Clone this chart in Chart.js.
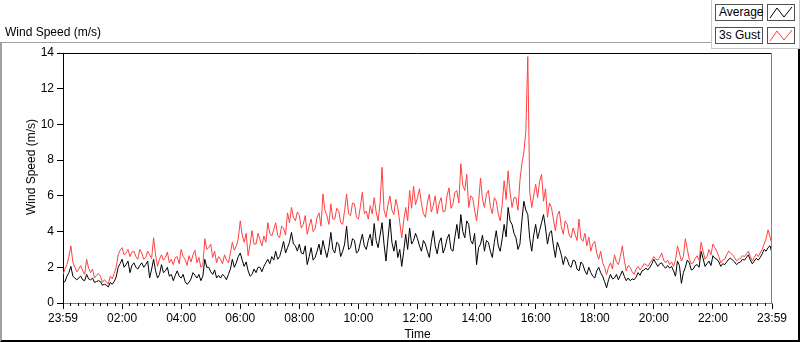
<!DOCTYPE html>
<html>
<head>
<meta charset="utf-8">
<title>Wind Speed (m/s)</title>
<script src="https://cdn.jsdelivr.net/npm/chart.js@4.4.1/dist/chart.umd.min.js"></script>
<style>
  html, body { margin: 0; padding: 0; background: #fff; }
  body { width: 800px; height: 342px; position: relative; overflow: hidden;
         font-family: "Liberation Sans", Arial, sans-serif; font-size: 12px; color: #000; }
  #frame { position: absolute; left: 0; top: 42px; width: 796px; height: 297px;
           border-top: 1px solid #a0a0a0; border-left: 2px solid #a0a0a0;
           border-right: 2px solid #000; border-bottom: 2px solid #000; }
  #title { position: absolute; left: 5px; top: 25px; line-height: 14px; white-space: nowrap; }
  #ytitle { position: absolute; left: 31px; top: 167px; white-space: nowrap; line-height: 14px;
            transform: translate(-50%, -50%) rotate(-90deg); }
  #legend { position: absolute; left: 711px; top: -1px; width: 87px; height: 48px;
            border: 1px solid #c8c8c8; background: #fff; }
  .lbl { position: absolute; left: 715px; width: 48px; height: 17px; box-sizing: border-box;
         border: 1px solid #505050; padding-left: 3px; line-height: 15px; background: #fff; }
  .ico { position: absolute; left: 767px; width: 28px; height: 17px; box-sizing: border-box;
         border: 1px solid #505050; background: #fff; }
  .ico svg { display: block; }
  canvas { position: absolute; left: 0; top: 0; }
</style>
</head>
<body>
<div id="frame"></div>
<canvas id="chart" width="800" height="342"></canvas>
<div id="title">Wind Speed (m/s)</div>
<div id="ytitle">Wind Speed (m/s)</div>
<div id="legend"></div>
<div class="lbl" style="top:4px">Average</div>
<div class="ico" style="top:4px"><svg width="26" height="15"><polyline points="2,13 9,3 16,12 24,2" fill="none" stroke="#000" stroke-width="1"/></svg></div>
<div class="lbl" style="top:27px">3s Gust</div>
<div class="ico" style="top:27px"><svg width="26" height="15"><polyline points="2,13 9,3 16,12 24,2" fill="none" stroke="#ff4040" stroke-width="1"/></svg></div>
<script>
// one sample every 4 minutes, from 23:59 to 23:59
var stepMinutes = 4;

var avgSpeed = [
  1.15, 1.2, 1.5, 1.7, 2.05, 1.5, 1.4, 1.3, 1.4, 1.5, 1.3, 1.25, 1.6, 1.35, 1.3, 1.4, 1.15, 1.2, 1.25, 1.2,
  1.0, 1.05, 1.0, 0.9, 1.15, 1.05, 1.2, 1.45, 2.0, 2.2, 2.45, 2.0, 2.15, 2.35, 1.7, 2.1, 2.25, 2.0, 1.9, 2.1,
  2.25, 2.0, 2.15, 2.35, 1.4, 1.9, 2.45, 1.8, 1.4, 1.6, 2.15, 1.7, 1.8, 2.0, 1.5, 1.6, 1.25, 1.55, 1.8, 1.5,
  1.4, 1.6, 1.2, 1.05, 1.15, 1.35, 1.7, 1.55, 1.4, 1.6, 1.25, 1.5, 2.45, 2.0, 2.0, 1.75, 1.6, 1.85, 1.4, 1.55,
  1.4, 1.6, 1.5, 1.3, 1.6, 1.9, 2.45, 2.0, 2.25, 2.6, 2.8, 2.4, 2.05, 2.3, 1.8, 1.5, 1.6, 1.9, 1.7, 2.0,
  2.0, 1.75, 2.05, 2.25, 2.45, 2.2, 2.6, 2.4, 2.9, 2.45, 2.6, 3.0, 3.45, 2.8, 3.1, 3.4, 3.95, 3.3, 3.2, 2.9,
  3.3, 2.8, 2.75, 3.2, 2.15, 2.6, 3.1, 2.4, 2.55, 2.9, 3.3, 2.7, 3.5, 3.0, 2.55, 3.1, 3.95, 3.0, 2.8, 3.4,
  3.3, 2.6, 2.9, 3.3, 4.3, 3.0, 3.1, 3.6, 3.5, 2.8, 2.9, 3.4, 3.85, 3.2, 3.0, 3.5, 3.85, 3.2, 4.45, 3.5,
  3.1, 3.8, 4.5, 3.3, 2.35, 3.6, 4.7, 3.4, 2.9, 3.5, 2.55, 3.0, 2.05, 2.9, 3.85, 3.0, 4.2, 3.3, 3.5, 3.9,
  3.6, 3.2, 2.9, 3.5, 3.3, 2.9, 2.55, 3.4, 4.05, 3.2, 2.75, 3.4, 3.65, 2.8, 3.1, 3.6, 3.85, 3.0, 2.9, 3.7,
  4.4, 3.6, 4.95, 4.0, 3.65, 4.6, 4.4, 3.5, 3.3, 3.9, 2.15, 3.1, 3.3, 3.8, 2.9, 3.5, 3.4, 2.9, 2.55, 3.4,
  4.05, 3.2, 2.9, 3.6, 4.4, 3.7, 5.35, 4.6, 4.4, 3.9, 3.65, 3.0, 3.3, 4.6, 5.7, 5.2, 4.95, 3.6, 2.9, 3.8,
  4.4, 3.6, 4.05, 4.5, 4.95, 4.2, 3.3, 3.9, 4.05, 3.2, 2.55, 3.4, 3.1, 2.7, 2.15, 2.6, 2.45, 2.1, 2.0, 2.4,
  2.35, 1.9, 1.8, 2.3, 2.15, 1.8, 1.6, 2.0, 1.7, 1.5, 1.4, 1.8, 2.0, 1.7, 1.5, 1.2, 0.85, 1.3, 1.6, 1.35,
  1.4, 1.6, 1.3, 1.55, 1.8, 1.5, 1.25, 1.4, 1.25, 1.35, 1.3, 1.45, 1.7, 1.55, 1.8, 1.85, 1.95, 1.85, 2.0, 2.2,
  2.45, 2.25, 2.05, 2.2, 2.25, 2.05, 1.95, 2.1, 1.95, 2.05, 1.8, 1.5, 2.35, 2.1, 1.1, 1.7, 2.0, 2.4, 2.25, 1.85,
  1.9, 2.1, 2.15, 2.0, 2.9, 2.5, 2.05, 2.2, 2.35, 2.1, 2.65, 2.5, 2.45, 2.3, 2.05, 2.2, 2.15, 2.3, 2.45, 2.5,
  2.4, 2.3, 2.15, 2.25, 2.3, 2.45, 2.4, 2.55, 2.7, 2.4, 2.2, 2.35, 2.5, 2.4, 2.55, 2.75, 3.0, 2.9, 3.1, 3.2,
  2.8
];

var gustSpeed = [
  1.6, 1.9, 2.15, 2.6, 3.2, 2.3, 2.0, 1.75, 1.9, 2.1, 1.8, 1.6, 2.45, 1.95, 1.7, 1.9, 1.4, 1.55, 1.65, 1.5,
  1.15, 1.3, 1.2, 1.05, 1.5, 1.35, 1.65, 2.0, 2.7, 2.95, 3.1, 2.7, 2.8, 3.0, 2.6, 2.85, 2.9, 2.6, 2.45, 3.0,
  2.8, 2.45, 2.55, 2.9, 2.7, 2.5, 3.65, 2.7, 2.05, 2.45, 2.7, 2.4, 2.55, 2.85, 2.25, 2.45, 2.15, 2.55, 2.6, 2.2,
  3.0, 2.6, 2.45, 2.1, 2.65, 2.3, 2.7, 2.95, 2.25, 2.55, 2.0, 2.1, 3.6, 3.0, 3.1, 3.3, 2.55, 2.9, 2.25, 2.6,
  2.45, 2.2, 2.7, 2.4, 2.25, 2.8, 3.4, 2.95, 3.2, 3.6, 4.6, 3.8, 3.4, 3.9, 2.65, 3.3, 4.05, 3.3, 3.3, 3.9,
  3.55, 3.2, 3.75, 3.4, 4.5, 3.9, 3.75, 4.1, 4.5, 3.8, 3.65, 4.3, 4.2, 3.8, 5.05, 4.5, 5.35, 4.8, 4.6, 5.1,
  4.9, 4.2, 4.4, 4.9, 3.85, 4.3, 4.7, 4.0, 4.15, 4.8, 5.05, 4.3, 6.1, 5.2, 4.9, 4.4, 5.55, 4.7, 4.7, 5.3,
  5.15, 4.5, 4.4, 5.2, 6.1, 5.0, 4.9, 5.6, 5.55, 4.8, 4.7, 5.4, 6.2, 5.0, 5.15, 4.7, 5.45, 5.0, 5.9, 5.1,
  4.6, 5.6, 7.6, 5.2, 4.8, 5.5, 6.0, 5.2, 4.95, 5.8, 5.35, 4.5, 3.65, 4.6, 5.35, 4.6, 6.3, 5.3, 6.55, 5.5,
  5.9, 6.4, 5.55, 5.0, 4.8, 5.6, 6.1, 5.1, 5.45, 6.0, 5.0, 5.6, 5.9, 5.1, 5.15, 6.0, 6.45, 5.3, 5.55, 6.2,
  6.3, 5.6, 7.8, 6.6, 6.3, 7.2, 5.35, 6.0, 5.9, 5.2, 4.6, 5.6, 7.0, 5.8, 5.35, 6.1, 6.3, 5.4, 5.0, 5.9,
  5.7, 5.0, 4.6, 5.5, 6.85, 5.8, 7.4, 6.2, 5.35, 5.9, 5.9, 5.2, 6.85, 7.8, 8.45, 9.6, 13.8, 6.2, 5.35, 6.0,
  6.65, 5.9, 6.8, 7.2, 5.7, 6.4, 4.8, 5.6, 5.35, 4.7, 4.05, 4.9, 5.15, 4.3, 3.85, 4.6, 4.4, 3.8, 3.65, 4.2,
  3.85, 3.5, 4.7, 3.6, 3.45, 3.9, 3.2, 3.7, 2.9, 3.3, 3.45, 2.8, 2.45, 2.9, 2.25, 2.0, 1.6, 2.0, 2.25, 1.9,
  2.7, 2.3, 2.15, 2.6, 3.2, 2.4, 1.8, 2.1, 2.0, 1.75, 1.6, 1.9, 2.05, 1.85, 2.0, 2.2, 2.15, 2.05, 2.25, 2.4,
  2.6, 2.45, 2.4, 2.55, 2.8, 2.4, 2.25, 2.4, 2.15, 2.3, 2.05, 2.4, 3.2, 2.8, 2.35, 2.6, 3.6, 3.0, 2.45, 2.2,
  2.25, 2.5, 2.65, 2.4, 3.4, 2.9, 2.45, 2.6, 3.0, 2.7, 3.3, 3.1, 2.9, 2.6, 2.25, 2.4, 2.45, 2.7, 2.9, 2.8,
  2.7, 2.55, 2.35, 2.45, 2.5, 2.65, 2.6, 2.75, 2.9, 2.6, 2.35, 2.55, 2.75, 2.6, 2.8, 3.0, 3.3, 3.6, 4.1, 3.7,
  3.3
];

var timeLabels = ['23:59', '02:00', '04:00', '06:00', '08:00', '10:00', '12:00',
                  '14:00', '16:00', '18:00', '20:00', '22:00', '23:59'];
var yTicks = [0, 2, 4, 6, 8, 10, 12, 14];

function toPoints(values) {
    return values.map(function (v, i) { return { x: i * stepMinutes, y: v }; });
}

// plot frame (top/right) and the 15 minute minor ticks on the time axis
var framePlugin = {
    id: 'frame',
    afterDraw: function (chart) {
        var c = chart.ctx, a = chart.chartArea, xs = chart.scales.x;
        c.save();
        c.lineWidth = 1;
        c.strokeStyle = '#000';
        c.beginPath();
        c.moveTo(a.left, a.top + 0.5);
        c.lineTo(a.right, a.top + 0.5);
        c.stroke();
        c.strokeStyle = '#808080';
        c.beginPath();
        c.moveTo(a.right - 0.5, a.top);
        c.lineTo(a.right - 0.5, a.bottom);
        c.stroke();
        c.strokeStyle = '#000';
        c.beginPath();
        for (var m = 0; m <= 1440; m += 15) {
            if (m % 120 === 0) continue;
            var px = Math.round(xs.getPixelForValue(m)) + 0.5;
            c.moveTo(px, a.bottom);
            c.lineTo(px, a.bottom + 3);
        }
        c.stroke();
        c.restore();
    }
};

Chart.defaults.font.family = '"Liberation Sans", Arial, sans-serif';
Chart.defaults.font.size = 12;
Chart.defaults.color = '#000';

var chart = new Chart(document.getElementById('chart').getContext('2d'), {
    type: 'line',
    data: {
        datasets: [{
            label: '3s Gust',
            data: toPoints(gustSpeed),
            borderColor: '#ff4040',
            borderWidth: 1,
            pointRadius: 0,
            tension: 0,
            fill: false,
            order: 0
        }, {
            label: 'Average',
            data: toPoints(avgSpeed),
            borderColor: '#000000',
            borderWidth: 1,
            pointRadius: 0,
            tension: 0,
            fill: false,
            order: 1
        }]
    },
    options: {
        responsive: false,
        animation: false,
        devicePixelRatio: 1,
        layout: { padding: { left: 24, right: 28, top: 53, bottom: 0 } },
        plugins: {
            legend: { display: false },
            tooltip: { enabled: false }
        },
        scales: {
            x: {
                type: 'linear',
                min: 0,
                max: 1440,
                afterBuildTicks: function (scale) {
                    scale.ticks = timeLabels.map(function (t, i) { return { value: i * 120 }; });
                },
                afterFit: function (scale) { scale.height = 39; },
                ticks: {
                    autoSkip: false,
                    maxRotation: 0,
                    padding: 2,
                    color: '#000',
                    callback: function (value, index) { return timeLabels[index]; }
                },
                grid: { drawOnChartArea: false, tickLength: 6, color: '#000' },
                border: { display: true, color: '#808080' },
                title: { display: true, text: 'Time', color: '#000', padding: { top: 0, bottom: 0 } }
            },
            y: {
                min: 0,
                max: 14,
                afterBuildTicks: function (scale) {
                    scale.ticks = yTicks.map(function (v) { return { value: v }; });
                },
                afterFit: function (scale) { scale.width = 39; },
                ticks: { padding: 3, color: '#000' },
                grid: { drawOnChartArea: false, tickLength: 6, color: '#000' },
                border: { display: true, color: '#000' }
            }
        }
    },
    plugins: [framePlugin]
});
</script>
</body>
</html>
